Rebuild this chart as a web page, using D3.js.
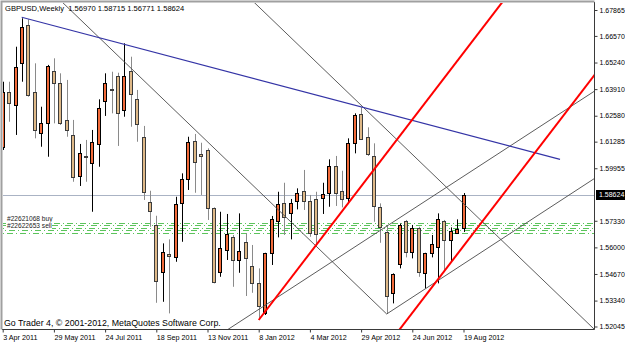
<!DOCTYPE html>
<html>
<head>
<meta charset="utf-8">
<script src="https://cdn.jsdelivr.net/npm/d3@7"></script>
<style>
  body { margin: 0; background: #fff; }
  svg { display: block; font-family: "Liberation Sans", Arial, sans-serif; }
</style>
</head>
<body>
<div id="chart"></div>
<script>
"use strict";

/*
 * GBPUSD weekly bars, one per week from 3 Apr 2011 to 19 Aug 2012.
 */
var opens = [1.6103, 1.6378, 1.6312, 1.6520, 1.6712, 1.6378, 1.6173, 1.6220, 1.6483, 1.6423,
             1.6237, 1.6162, 1.5958, 1.6058, 1.6023, 1.6115, 1.6332, 1.6390, 1.6456, 1.6287,
             1.6481, 1.6340, 1.6153, 1.5825, 1.5712, 1.5478, 1.5567, 1.5550, 1.5820, 1.5942,
             1.6132, 1.6065, 1.6087, 1.5795, 1.5475, 1.5587, 1.5650, 1.5537, 1.5625, 1.5508,
             1.5420, 1.5270, 1.5573, 1.5732, 1.5820, 1.5770, 1.5833, 1.5883, 1.5833, 1.5840,
             1.5845, 1.5870, 1.6007, 1.5883, 1.5848, 1.6123, 1.6267, 1.6150, 1.6058, 1.5803,
             1.5678, 1.5370, 1.5517, 1.5732, 1.5578, 1.5695, 1.5473, 1.5573, 1.5600, 1.5732,
             1.5637, 1.5673, 1.56970];
var highs = [1.6428, 1.6428, 1.6603, 1.6745, 1.6740, 1.6520, 1.6303, 1.6512, 1.6545, 1.6470,
             1.6437, 1.6237, 1.6117, 1.6137, 1.6187, 1.6340, 1.6470, 1.6478, 1.6473, 1.6620,
             1.6553, 1.6387, 1.6207, 1.5883, 1.5758, 1.5620, 1.5640, 1.5853, 1.5970, 1.6153,
             1.6167, 1.6123, 1.6095, 1.5800, 1.5778, 1.5767, 1.5662, 1.5770, 1.5670, 1.5612,
             1.5495, 1.5573, 1.5757, 1.5878, 1.5923, 1.5842, 1.5895, 1.5987, 1.5862, 1.5878,
             1.5923, 1.6040, 1.6057, 1.5983, 1.6145, 1.6270, 1.6300, 1.6200, 1.6120, 1.5820,
             1.5712, 1.5470, 1.5720, 1.5737, 1.5712, 1.5703, 1.5573, 1.5662, 1.5770, 1.5737,
             1.5700, 1.5740, 1.58715];
var lows = [1.6087, 1.6228, 1.6162, 1.6428, 1.6353, 1.6145, 1.6103, 1.6053, 1.6220, 1.6212,
            1.6153, 1.5928, 1.5907, 1.5928, 1.5778, 1.6003, 1.6257, 1.6270, 1.6107, 1.6253,
            1.6203, 1.6128, 1.5837, 1.5703, 1.5323, 1.5328, 1.5270, 1.5528, 1.5628, 1.5887,
            1.5873, 1.5862, 1.5737, 1.5420, 1.5453, 1.5537, 1.5403, 1.5473, 1.5357, 1.5373,
            1.5237, 1.5262, 1.5512, 1.5650, 1.5662, 1.5640, 1.5790, 1.5787, 1.5653, 1.5612,
            1.5767, 1.5803, 1.5807, 1.5800, 1.5823, 1.6070, 1.6137, 1.6057, 1.5728, 1.5623,
            1.5267, 1.5320, 1.5495, 1.5550, 1.5545, 1.5453, 1.5395, 1.5550, 1.5420, 1.5478,
            1.5528, 1.5667, 1.56771];
var closes = [1.6378, 1.6320, 1.6503, 1.6703, 1.6362, 1.6187, 1.6223, 1.6507, 1.6420, 1.6220,
              1.6187, 1.5953, 1.6070, 1.6050, 1.6125, 1.6295, 1.6423, 1.6385, 1.6270, 1.6456,
              1.6367, 1.6215, 1.5878, 1.5783, 1.5433, 1.5575, 1.5558, 1.5815, 1.5940, 1.6127,
              1.6025, 1.6058, 1.5798, 1.5428, 1.5595, 1.5665, 1.5537, 1.5583, 1.5545, 1.5420,
              1.5307, 1.5570, 1.5740, 1.5815, 1.5750, 1.5820, 1.5873, 1.5832, 1.5673, 1.5667,
              1.5865, 1.6007, 1.5870, 1.5840, 1.6120, 1.6262, 1.6140, 1.6065, 1.5808, 1.5703,
              1.5358, 1.5465, 1.5712, 1.5575, 1.5698, 1.5478, 1.5570, 1.5615, 1.5740, 1.5637,
              1.5682, 1.5692, 1.58624];

// right scale labels (MT4 picks its own uneven steps)
var priceTicks = [1.67865, 1.66570, 1.65240, 1.63910, 1.62580, 1.61285, 1.59955,
                  1.57330, 1.56000, 1.54670, 1.53340, 1.52045];
var lastPrice = 1.58624;

// time scale labels, every 8th bar
var dateLabels = ["3 Apr 2011", "29 May 2011", "24 Jul 2011", "18 Sep 2011", "13 Nov 2011",
                  "8 Jan 2012", "4 Mar 2012", "29 Apr 2012", "24 Jun 2012", "19 Aug 2012"];
var dateLabelBars = [0, 8, 16, 24, 32, 40, 48, 56, 64, 72];

// drawn objects as [bar, price] end points
var blueLine   = [[2.97, 1.6750], [87.08, 1.6040]];
var grayLines  = [
  [[8.14, 1.68615], [60, 1.5267]],      // falling leg into the June low
  [[60, 1.5267], [93.33, 1.59625]],     // rising leg from the June low
  [[33.95, 1.51640], [93.33, 1.63990]], // channel top
  [[37.86, 1.68685], [93.33, 1.51630]]  // parallel falling line
];
var redLines   = [
  [[40, 1.5237], [79.27, 1.68760]],
  [[61.34, 1.51615], [93.33, 1.64975]]
];
var orderLevels = [1.5724, 1.5711, 1.5699, 1.5686, 1.5673];
var orderLabels = ["#22621068 buy", "#22622653 sell"];

var title = "GBPUSD,Weekly  1.56970 1.58715 1.56771 1.58624";
var copyright = "Go Trader 4, \u00a9 2001-2012, MetaQuotes Software Corp.";

/*
 * # Setup
 */
var width = 625, height = 343;
var plot = { left: 2, top: 2, right: 594.5, bottom: 329.5 };

var svg = d3.select("#chart").append("svg")
  .attr("width", width).attr("height", height);

svg.append("rect").attr("width", width).attr("height", height).attr("fill", "#fff");

svg.append("defs").append("clipPath").attr("id", "plotClip")
  .append("rect")
  .attr("x", plot.left + 1).attr("y", plot.top + 1)
  .attr("width", plot.right - plot.left - 1).attr("height", plot.bottom - plot.top - 1);

var x = d3.scaleLinear().domain([0, 72]).range([2.7, 463.5]);
var y = d3.scaleLinear().domain([1.52045, 1.67865]).range([326.5, 10]);

var bars = d3.range(opens.length).map(function (i) {
  return { i: i, o: opens[i], h: highs[i], l: lows[i], c: closes[i] };
});

/*
 * # Horizontal levels
 */
var levels = svg.append("g").attr("clip-path", "url(#plotClip)");

levels.append("line")
  .attr("x1", plot.left).attr("x2", plot.right)
  .attr("y1", Math.round(y(lastPrice)) + 0.5).attr("y2", Math.round(y(lastPrice)) + 0.5)
  .attr("stroke", "#aab3c4").attr("stroke-width", 1);

levels.selectAll(".order")
  .data(orderLevels)
  .enter().append("line")
  .attr("x1", plot.left).attr("x2", plot.right)
  .attr("y1", function (d) { return Math.round(y(d)) + 0.5; })
  .attr("y2", function (d) { return Math.round(y(d)) + 0.5; })
  .attr("stroke", "#5cc45c").attr("stroke-width", 1)
  .attr("stroke-dasharray", "6,3,1,3")
  .attr("stroke-dashoffset", function (d, i) { return i * 2; });

/*
 * # Candles
 */
var candles = svg.append("g").attr("clip-path", "url(#plotClip)");

candles.selectAll(".wick")
  .data(bars)
  .enter().append("line")
  .attr("x1", function (d) { return Math.round(x(d.i)) + 0.5; })
  .attr("x2", function (d) { return Math.round(x(d.i)) + 0.5; })
  .attr("y1", function (d) { return y(d.h); })
  .attr("y2", function (d) { return y(d.l); })
  .attr("stroke", function (d) { return d.c >= d.o ? "#000" : "#8a8a8a"; })
  .attr("stroke-width", 1);

candles.selectAll(".body")
  .data(bars)
  .enter().append("rect")
  .attr("x", function (d) { return Math.round(x(d.i)) - 1.5; })
  .attr("y", function (d) { return Math.round(y(Math.max(d.o, d.c))) + 0.5; })
  .attr("width", 3)
  .attr("height", function (d) {
    return Math.max(1, Math.round(y(Math.min(d.o, d.c))) - Math.round(y(Math.max(d.o, d.c))));
  })
  .attr("fill", function (d) { return d.c >= d.o ? "#f26b3a" : "#deb887"; })
  .attr("stroke", function (d) { return d.c >= d.o ? "#000" : "#3c3c3c"; })
  .attr("stroke-width", 1)
  .attr("shape-rendering", "crispEdges");

/*
 * # Drawn objects
 */
var objects = svg.append("g").attr("clip-path", "url(#plotClip)");
var seg = d3.line().x(function (d) { return x(d[0]); }).y(function (d) { return y(d[1]); });

objects.selectAll(".gray")
  .data(grayLines)
  .enter().append("path")
  .attr("d", seg).attr("fill", "none")
  .attr("stroke", "#4a4a4a").attr("stroke-width", 0.9);

objects.append("path")
  .attr("d", seg(blueLine)).attr("fill", "none")
  .attr("stroke", "#3434a6").attr("stroke-width", 1.1);

objects.selectAll(".red")
  .data(redLines)
  .enter().append("path")
  .attr("d", seg).attr("fill", "none")
  .attr("stroke", "#ff0000").attr("stroke-width", 2);

/*
 * # Order labels
 */
var labels = svg.append("g").attr("font-size", "6.6px");
orderLabels.forEach(function (t, i) {
  var by = Math.round(y(orderLevels[0])) - 2 + i * 7;
  labels.append("rect")
    .attr("x", 6).attr("y", by - 5.5).attr("width", i ? 46 : 43).attr("height", 7)
    .attr("fill", "#fff");
  labels.append("text")
    .attr("x", 7).attr("y", by)
    .attr("fill", "#222")
    .text(t);
});

/*
 * # Axes and frame
 */
var yAxis = d3.axisRight(y)
  .tickValues(priceTicks)
  .tickFormat(d3.format(".5f"))
  .tickSize(3).tickPadding(2);

var yg = svg.append("g")
  .attr("transform", "translate(" + plot.right + ",0)")
  .call(yAxis);
yg.select(".domain").attr("d", "M0," + plot.top + "V" + plot.bottom).attr("stroke", "#3a3a3a");
yg.selectAll("text").attr("font-size", "7px").attr("font-family", null).attr("fill", "#000");
yg.selectAll("line").attr("stroke", "#3a3a3a");

var xAxis = d3.axisBottom(x)
  .tickValues(dateLabelBars)
  .tickFormat(function (d, i) { return dateLabels[i]; })
  .tickSize(3).tickPadding(2);

var xg = svg.append("g")
  .attr("transform", "translate(0," + plot.bottom + ")")
  .call(xAxis);
xg.select(".domain").attr("d", "M" + plot.left + ",0H" + plot.right).attr("stroke", "#3a3a3a");
xg.selectAll("text").attr("font-size", "7.2px").attr("font-family", null)
  .attr("text-anchor", "start").attr("fill", "#000");
xg.selectAll("line").attr("stroke", "#3a3a3a");

// window frame, left and top
svg.append("path")
  .attr("d", "M1.5," + plot.bottom + "V1.5H" + plot.right)
  .attr("fill", "none").attr("stroke", "#a0a0a0").attr("stroke-width", 2);

// last price marker
svg.append("rect")
  .attr("x", 596).attr("y", Math.round(y(lastPrice)) - 5)
  .attr("width", 29).attr("height", 10).attr("fill", "#000");
svg.append("text")
  .attr("x", 599).attr("y", y(lastPrice)).attr("dy", "0.34em")
  .attr("font-size", "7px").attr("fill", "#fff")
  .text(d3.format(".5f")(lastPrice));

svg.append("text")
  .attr("x", 5).attr("y", 11)
  .attr("font-size", "7.6px").attr("fill", "#000")
  .style("white-space", "pre")
  .text(title);

svg.append("text")
  .attr("x", 4).attr("y", 326)
  .attr("font-size", "8.8px").attr("fill", "#000")
  .text(copyright);
</script>
</body>
</html>
